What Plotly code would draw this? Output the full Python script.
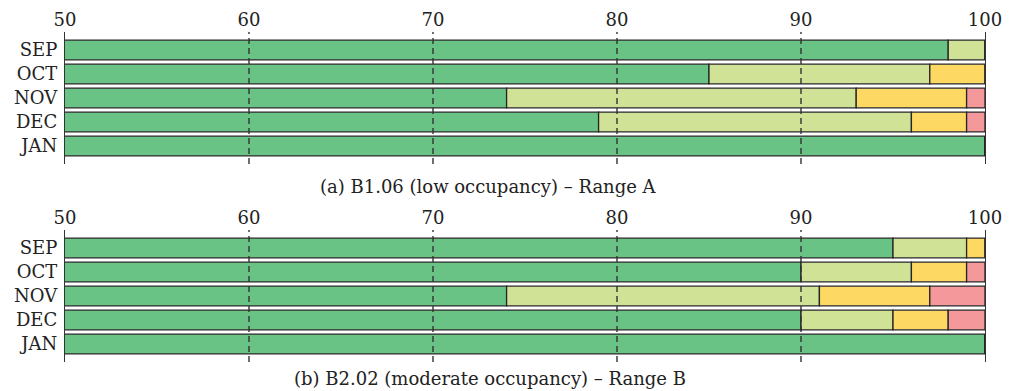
import plotly.graph_objects as go
import numpy as np

months = ["SEP", "OCT", "NOV", "DEC", "JAN"]
tick_vals = [50, 60, 70, 80, 90, 100]
tick_text = ["50", "60", "70", "80", "90", "100"]
grid_vals = [60, 70, 80, 90]

# percentage of time in each comfort band (panel a)
a_green = [98, 85, 74, 79, 100]
a_light = [2, 12, 19, 17, 0]
a_yellow = [0, 3, 6, 3, 0]
a_red = [0, 0, 1, 1, 0]

# panel b
b_green = [95, 90, 74, 90, 100]
b_light = [4, 6, 17, 5, 0]
b_yellow = [1, 3, 6, 3, 0]
b_red = [0, 1, 3, 2, 0]

caption_a = "(a) B1.06 (low occupancy) – Range A"
caption_b = "(b) B2.02 (moderate occupancy) – Range B"

colors = ["#69C384", "#D0E296", "#FDD862", "#F5989B"]
names = ["green", "light green", "yellow", "red"]
FONT = "DejaVu Serif"

fig = go.Figure()

def add_panel(series, xa, ya):
    base = np.zeros(len(months))
    for vals, c, n in zip(series, colors, names):
        v = np.array(vals, dtype=float)
        fig.add_trace(go.Bar(
            y=months, x=v, base=base.copy(), orientation="h",
            marker=dict(color=c, line=dict(color="#262626", width=1.3)),
            width=0.82, name=n, showlegend=False,
            xaxis=xa, yaxis=ya,
        ))
        base = base + v

add_panel([a_green, a_light, a_yellow, a_red], "x", "y")
add_panel([b_green, b_light, b_yellow, b_red], "x2", "y2")

W, H = 1009, 391
xdom = [65 / W, 985 / W]

def xaxis_cfg(anchor):
    return dict(
        range=[50, 100], domain=xdom, anchor=anchor, side="top",
        tickvals=tick_vals, ticktext=tick_text, ticks="",
        showgrid=False, showline=False, zeroline=False, automargin=False,
        tickfont=dict(family=FONT, size=18, color="#222222"),
        ticklabelstandoff=1,
    )

def yaxis_cfg(dom, anchor):
    return dict(
        domain=dom, anchor=anchor, range=[4.75, -0.75],
        categoryorder="array", categoryarray=months,
        showline=True, mirror=True, linecolor="#333333", linewidth=1.3,
        ticks="", showgrid=False, zeroline=False, automargin=False,
        tickfont=dict(family=FONT, size=18, color="#222222"),
        ticklabelstandoff=3,
    )

shapes = []
for xr, yr in [("x", "y domain"), ("x2", "y2 domain")]:
    for g in grid_vals:
        shapes.append(dict(type="line", xref=xr, yref=yr, x0=g, x1=g, y0=0, y1=1,
                           layer="above", line=dict(color="#333333", width=1.4, dash="6px,4px")))

fig.update_layout(
    width=W, height=H, barmode="overlay",
    margin=dict(l=0, r=0, t=0, b=0),
    paper_bgcolor="white", plot_bgcolor="white",
    xaxis=xaxis_cfg("y"),
    yaxis=yaxis_cfg([1 - 164 / H, 1 - 32 / H], "x"),
    xaxis2=xaxis_cfg("y2"),
    yaxis2=yaxis_cfg([1 - 362 / H, 1 - 230 / H], "x2"),
    shapes=shapes,
    annotations=[
        dict(text=caption_a, x=488 / W, y=1 - 186 / H, xref="paper", yref="paper",
             xanchor="center", yanchor="middle",
             showarrow=False, font=dict(family=FONT, size=18, color="#222222")),
        dict(text=caption_b, x=490 / W, y=1 - 378 / H, xref="paper", yref="paper",
             xanchor="center", yanchor="middle",
             showarrow=False, font=dict(family=FONT, size=18, color="#222222")),
    ],
)

fig.write_html("out.html")
